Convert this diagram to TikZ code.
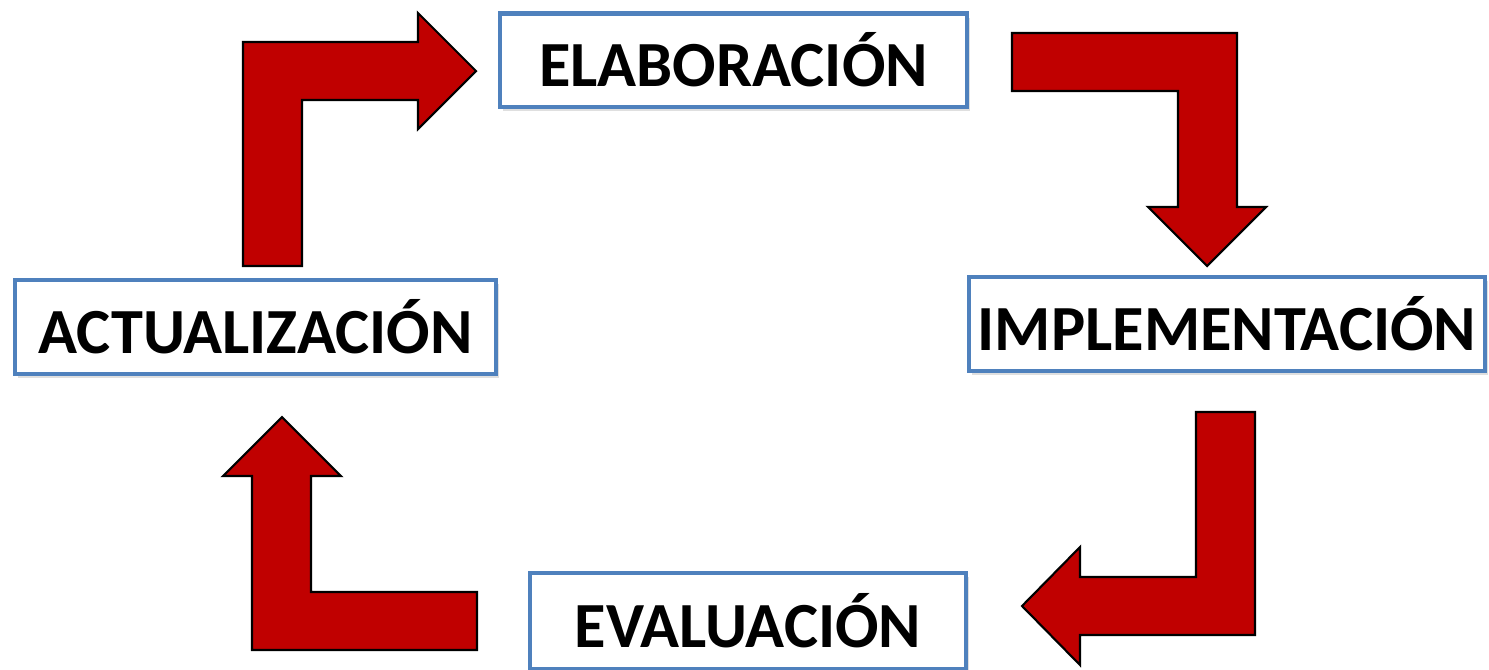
\documentclass[tikz,border=0pt]{standalone}
\usepackage{fontspec}
\setmainfont{Carlito}
\usepackage{tikz}
\usetikzlibrary{shadows,positioning}
\usepackage{xcolor}
\definecolor{boxblue}{HTML}{4F81BD}
\definecolor{arrowred}{HTML}{C00000}

\begin{document}
\begin{tikzpicture}[
            x = 0.01cm, y = -0.01cm,
            phase/.style={
                draw = boxblue,
                line width = 1.15pt,
                fill = white,
                rectangle,
                inner sep = 0pt,
                minimum height = 0.93cm,
                font = \fontsize{18.3pt}{20pt}\selectfont\bfseries,
                drop shadow = {opacity = 0.25, shadow xshift = 0.8pt, shadow yshift = -1.2pt}
            },
            blockarrow/.style={
                draw = black,
                line width = 0.6pt,
                fill = arrowred,
                line join = miter
            }
        ]
        \useasboundingbox (0,0) rectangle (1489,669);

        \node[phase, minimum width = 4.67cm] (elab) at (733.5,60) {ELABORACIÓN};
        \node[phase, minimum width = 5.16cm, minimum height = 0.94cm] (impl) at (1227,324) {IMPLEMENTACIÓN};
        \node[phase, minimum width = 4.36cm, minimum height = 0.96cm] (eval) at (748,621) {EVALUACIÓN};
        \node[phase, minimum width = 4.81cm, minimum height = 0.94cm] (actual) at (255.5,327) {ACTUALIZACIÓN};

        % bent block arrows between the phases
        \draw[blockarrow] (243,266) -- (243,42) -- (418,42) -- (418,13) -- (476,71)
            -- (418,129) -- (418,100) -- (302,100) -- (302,266) -- cycle;
        \draw[blockarrow] (1012,33) -- (1237,33) -- (1237,207) -- (1266,207) -- (1207,266)
            -- (1148,207) -- (1178,207) -- (1178,91) -- (1012,91) -- cycle;
        \draw[blockarrow] (1196,412) -- (1255,412) -- (1255,635) -- (1080,635) -- (1080,665)
            -- (1022,606) -- (1080,547) -- (1080,577) -- (1196,577) -- cycle;
        \draw[blockarrow] (477,592) -- (477,650) -- (252,650) -- (252,476) -- (223,476)
            -- (282,417) -- (341,476) -- (311,476) -- (311,592) -- cycle;
    \end{tikzpicture}
\end{document}
